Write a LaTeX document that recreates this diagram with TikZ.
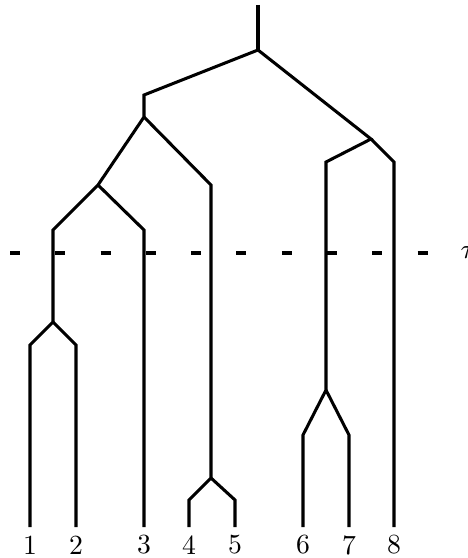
\documentclass[tikz,border=0pt]{standalone}
\begin{document}
\begin{tikzpicture}[x=0.361pt,y=-0.361pt,
  branch/.style={line width=1.1pt,line join=miter},
  cut/.style={line width=1.1pt,dash pattern=on 3.6pt off 12.75pt},
  leaflabel/.style={inner sep=0pt,anchor=center}]
\useasboundingbox (0,0) rectangle (468,558);
% internal points
\coordinate (top) at (258,5);
\coordinate (r) at (258,50);
\coordinate (a) at (144,95);
\coordinate (a2) at (144,117);
\coordinate (b) at (98,185);
\coordinate (c) at (53,230);
\coordinate (c2) at (53,322);
\coordinate (c1L) at (30,345);
\coordinate (c1R) at (76,345);
\coordinate (b3) at (144,230);
\coordinate (d) at (211,185);
\coordinate (d2) at (211,478);
\coordinate (d2L) at (189,500);
\coordinate (d2R) at (235,500);
\coordinate (e) at (371,139);
\coordinate (eL) at (326,162);
\coordinate (eR) at (394,162);
\coordinate (f) at (326,390);
\coordinate (fL) at (303,435);
\coordinate (fR) at (349,435);
% leaf ends
\coordinate (l1) at (30,527);
\coordinate (l2) at (76,527);
\coordinate (l3) at (144,527);
\coordinate (l4) at (189,527);
\coordinate (l5) at (235,527);
\coordinate (l6) at (303,527);
\coordinate (l7) at (349,527);
\coordinate (l8) at (394,527);
% tree
\draw[branch] (top) -- (r);
\draw[branch] (r) -- (a) -- (a2) -- (b) -- (c) -- (c2) -- (c1L) -- (l1);
\draw[branch] (c2) -- (c1R) -- (l2);
\draw[branch] (b) -- (b3) -- (l3);
\draw[branch] (a2) -- (d) -- (d2) -- (d2L) -- (l4);
\draw[branch] (d2) -- (d2R) -- (l5);
\draw[branch] (r) -- (e) -- (eL) -- (f) -- (fL) -- (l6);
\draw[branch] (f) -- (fR) -- (l7);
\draw[branch] (e) -- (eR) -- (l8);
% cut line
\coordinate (cutS) at (10,253);
\coordinate (cutE) at (430,253);
\draw[cut] (cutS) -- (cutE);
\node[anchor=west,inner sep=0pt] (tau) at (460,253) {$\tau$};
% labels
\foreach \i/\x in {1/30,2/76,3/144,4/189,5/235,6/303,7/349,8/394}
  \node[leaflabel] (n\i) at (\x,545) {\i};
\end{tikzpicture}
\end{document}
